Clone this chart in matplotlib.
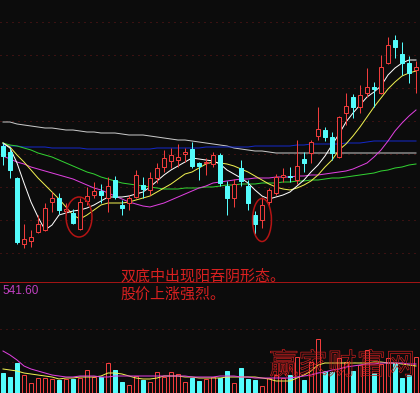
import numpy as np
import matplotlib.pyplot as plt
from matplotlib.patches import Ellipse
from matplotlib.lines import Line2D
import matplotlib.patheffects as pe

# 日K线数据 (60根)
opens = [25.4, 24.8, 22.2, 15.6, 15.9, 16.8, 17.0, 19.8, 20.2, 18.9,
         18.7, 17.1, 19.9, 20.5, 20.9, 20.2, 22.0, 19.5, 19.7, 20.3,
         21.5, 21.0, 22.2, 23.3, 23.9, 24.0, 24.65, 25.1, 23.75, 23.7,
         23.6, 24.5, 21.4, 20.2, 23.2, 21.4, 18.5, 18.0, 19.8, 20.7,
         22.3, 22.45, 22.0, 24.1, 24.7, 26.4, 27.0, 26.3, 24.3, 28.7,
         30.3, 29.3, 30.7, 31.3, 30.7, 33.7, 36.0, 34.6, 33.7, 33.0]
highs = [25.7, 25.2, 22.3, 17.6, 17.0, 18.5, 19.7, 20.8, 20.7, 19.7,
         19.1, 20.2, 21.3, 21.8, 21.6, 22.3, 22.4, 20.0, 20.5, 23.0,
         22.3, 22.8, 23.7, 25.0, 25.2, 25.6, 25.2, 25.8, 23.8, 24.2,
         24.8, 24.7, 21.9, 22.1, 24.0, 22.0, 18.9, 20.3, 21.2, 22.6,
         23.2, 23.3, 26.0, 24.8, 26.0, 29.3, 27.3, 26.8, 28.4, 30.7,
         30.6, 31.5, 33.2, 31.8, 34.5, 36.3, 36.5, 35.8, 34.4, 33.9]
lows = [23.5, 22.2, 15.6, 15.2, 15.3, 16.7, 16.95, 18.8, 18.6, 18.5,
        17.6, 17.0, 19.5, 20.2, 19.7, 18.8, 20.1, 18.5, 19.0, 20.2,
        20.2, 20.5, 21.7, 22.8, 23.2, 23.3, 23.8, 23.2, 22.0, 22.5,
        23.3, 21.4, 18.5, 19.3, 21.4, 19.0, 16.6, 17.2, 19.5, 20.5,
        21.8, 21.8, 21.6, 22.8, 23.7, 26.0, 25.9, 24.0, 24.2, 27.5,
        28.2, 28.7, 30.3, 29.3, 30.6, 33.6, 34.2, 32.5, 31.7, 30.7]
closes = [24.4, 23.0, 15.8, 16.1, 16.3, 17.6, 19.2, 20.2, 19.0, 19.1,
          17.7, 19.8, 20.4, 20.9, 20.5, 21.4, 20.3, 19.2, 20.2, 22.5,
          21.1, 22.2, 23.2, 24.2, 24.5, 24.3, 24.8, 23.4, 23.4, 23.8,
          24.5, 21.7, 20.2, 21.6, 21.9, 19.7, 17.6, 19.5, 21.0, 22.3,
          22.5, 22.3, 23.4, 23.7, 25.8, 27.1, 26.3, 24.7, 28.3, 29.4,
          29.3, 30.5, 31.3, 31.1, 33.3, 35.5, 35.3, 33.7, 32.7, 33.3]

# 均线
ma5 = [25.7, 25.2, 23.7, 21.7, 19.8, 18.3, 17.0, 17.5, 18.5, 18.7,
       18.9, 19.0, 19.2, 19.5, 19.9, 20.3, 20.3, 20.3, 20.4, 20.6,
       20.8, 21.3, 21.9, 22.5, 23.0, 23.4, 23.8, 24.2, 24.1, 24.0,
       23.9, 23.6, 23.0, 22.6, 22.2, 21.7, 21.0, 20.4, 20.1, 20.3,
       20.5, 20.8, 21.4, 22.0, 22.8, 23.5, 24.4, 25.5, 26.6, 27.8,
       28.7, 29.5, 30.3, 30.8, 31.4, 32.5, 33.2, 33.7, 34.0, 34.0]
ma10 = [25.7, 25.3, 24.5, 23.8, 23.0, 22.2, 21.5, 20.8, 20.1, 19.3,
        18.5, 18.1, 18.5, 19.0, 19.5, 19.7, 19.7, 19.7, 19.8, 20.0,
        20.2, 20.4, 20.8, 21.2, 21.6, 22.1, 22.6, 22.8, 23.2, 23.6,
        23.8, 23.7, 23.6, 23.4, 23.1, 22.8, 22.4, 22.0, 21.6, 21.3,
        21.1, 21.0, 21.2, 21.5, 21.9, 22.5, 23.3, 24.0, 25.0, 25.6,
        26.4, 27.3, 28.3, 29.3, 30.2, 31.1, 31.8, 32.4, 32.7, 32.9]
ma20 = [24.4, 24.1, 23.8, 23.6, 23.3, 23.1, 22.9, 22.7, 22.5, 22.3,
        22.1, 21.8, 21.5, 21.2, 21.0, 20.7, 20.4, 20.1, 19.8, 19.6,
        19.4, 19.3, 19.5, 19.7, 20.0, 20.3, 20.6, 20.9, 21.2, 21.4,
        21.7, 21.8, 21.9, 22.0, 22.1, 22.1, 22.2, 22.2, 22.2, 22.3,
        22.3, 22.3, 22.4, 22.4, 22.5, 22.5, 22.6, 22.7, 22.8, 22.9,
        23.1, 23.4, 23.7, 24.3, 25.0, 25.9, 26.9, 27.7, 28.4, 29.0]
ma30 = [25.7, 25.5, 25.4, 25.2, 25.0, 24.7, 24.5, 24.3, 24.0, 23.7,
        23.4, 23.1, 22.8, 22.6, 22.3, 22.1, 21.9, 21.7, 21.6, 21.5,
        21.4, 21.3, 21.2, 21.1, 21.1, 21.1, 21.2, 21.2, 21.2, 21.3,
        21.3, 21.4, 21.5, 21.5, 21.6, 21.6, 21.6, 21.7, 21.7, 21.7,
        21.8, 21.8, 21.9, 21.9, 22.0, 22.0, 22.1, 22.2, 22.2, 22.3,
        22.4, 22.5, 22.6, 22.7, 22.9, 23.0, 23.2, 23.3, 23.5, 23.6]
ma60 = [25.5, 25.4, 25.4, 25.3, 25.3, 25.3, 25.3, 25.2, 25.2, 25.2,
        25.2, 25.2, 25.1, 25.1, 25.1, 25.1, 25.1, 25.1, 25.1, 25.1,
        25.1, 25.1, 25.2, 25.2, 25.2, 25.2, 25.2, 25.2, 25.2, 25.3,
        25.3, 25.3, 25.3, 25.3, 25.3, 25.3, 25.4, 25.4, 25.4, 25.4,
        25.4, 25.4, 25.5, 25.5, 25.6, 25.6, 25.6, 25.6, 25.6, 25.7,
        25.7, 25.7, 25.8, 25.9, 25.9, 25.9, 25.9, 25.9, 25.9, 25.9]
ma120 = [27.8, 27.8, 27.6, 27.5, 27.4, 27.3, 27.2, 27.2, 27.1, 27.0,
         27.0, 26.9, 26.8, 26.8, 26.7, 26.7, 26.7, 26.6, 26.5, 26.5,
         26.5, 26.4, 26.3, 26.2, 26.1, 26.0, 26.0, 25.9, 25.8, 25.7,
         25.6, 25.5, 25.4, 25.2, 25.1, 25.0, 24.9, 24.9, 24.8, 24.7,
         24.7, 24.7, 24.7, 24.7, 24.7, 24.7, 24.7, 24.7, 24.7, 24.7,
         24.7, 24.7, 24.7, 24.7, 24.7, 24.7, 24.7, 24.7, 24.7, 24.7]

# 成交量
vols = [100, 80, 150, 90, 50, 75, 75, 70, 65, 70,
        70, 75, 115, 80, 80, 150, 115, 55, 40, 85,
        65, 55, 105, 80, 105, 95, 55, 75, 60, 70,
        80, 75, 110, 50, 125, 70, 65, 35, 75, 90,
        75, 90, 180, 65, 155, 270, 110, 105, 175, 155,
        110, 140, 215, 100, 145, 175, 150, 75, 90, 180]
vol_ma5 = [120, 115, 110, 100, 95, 90, 85, 80, 70, 75,
           75, 80, 80, 80, 85, 100, 100, 95, 85, 75,
           70, 70, 75, 85, 85, 85, 80, 80, 75, 75,
           75, 75, 80, 80, 80, 80, 80, 75, 70, 60,
           60, 60, 75, 90, 110, 140, 150, 150, 150, 150,
           150, 150, 150, 155, 155, 150, 150, 145, 140, 135]
vol_ma10 = [210, 190, 165, 135, 120, 110, 100, 90, 85, 80,
            80, 85, 85, 85, 80, 80, 85, 85, 85, 85,
            85, 85, 85, 85, 85, 85, 85, 80, 80, 80,
            80, 85, 85, 85, 80, 80, 75, 75, 75, 75,
            75, 75, 80, 85, 90, 100, 105, 115, 120, 130,
            135, 140, 145, 145, 150, 150, 150, 150, 145, 145]
vol_top_label = "541.60"

price_grid = [37.85, 34.55, 31.25, 27.95, 24.65, 21.35, 18.05, 14.75]
vol_grid = [320, 155]

note_lines = ["双底中出现阳吞阴形态。", "股价上涨强烈。"]
watermark = "赢家财富网"

BG = '#0c0c0c'
RED = '#f03c3c'
CYAN = '#54fcfc'
GRID = '#6a1818'
LW = 0.72
BW = 0.68

plt.rcParams['font.family'] = ['Noto Sans CJK SC', 'DejaVu Sans']

fig = plt.figure(figsize=(4.2, 3.93), dpi=100, facecolor=BG)
ax = fig.add_axes([0, 111 / 393, 1, 282 / 393])
axv = fig.add_axes([0, 0, 1, 111 / 393])
for a in (ax, axv):
    a.set_facecolor(BG)
    a.set_axis_off()
    a.set_xlim(-3 / 7, 417 / 7)
ax.set_ylim(11.8, 40)
axv.set_ylim(0, 555)

idx = np.arange(len(opens))
o = np.array(opens)
c = np.array(closes)
up = c >= o
colors = np.where(up, RED, CYAN)

for y in price_grid:
    ax.axhline(y, color=GRID, lw=LW, ls=(0, (1, 5)), zorder=0)
for y in vol_grid:
    axv.axhline(y, color=GRID, lw=LW, ls=(0, (1, 5)), zorder=0)

# 均线
ma_style = [(ma120, '#c8c8c8'), (ma60, '#1428c8'), (ma30, '#32d232'),
            (ma20, '#e040e0'), (ma10, '#f0f050'), (ma5, '#ffffff')]
for vals, col in ma_style:
    ax.plot(idx, vals, color=col, lw=LW, zorder=2)

# K线
ax.vlines(idx, lows, highs, colors=colors, lw=LW, zorder=3)
body_h = np.maximum(np.abs(c - o), 0.02)
body_b = np.minimum(c, o)
ax.bar(idx[up], body_h[up], bottom=body_b[up], width=BW,
       facecolor=BG, edgecolor=RED, lw=LW, zorder=4)
ax.bar(idx[~up], body_h[~up], bottom=body_b[~up], width=BW,
       facecolor=CYAN, edgecolor=CYAN, lw=LW, zorder=4)

# 圈出双底
ax.add_patch(Ellipse((10.86, 18.3), 3.7, 4.0, fill=False, ec='#b41414', lw=1.1, zorder=5))
ax.add_patch(Ellipse((37.0, 18.0), 2.7, 4.3, fill=False, ec='#b41414', lw=1.1, zorder=5))

# 成交量
v = np.array(vols)
axv.bar(idx[up], v[up], width=BW, facecolor=BG, edgecolor=RED, lw=LW, zorder=2)
axv.bar(idx[~up], v[~up], width=BW, facecolor=CYAN, edgecolor=CYAN, lw=LW, zorder=2)
axv.plot(idx, vol_ma5, color='#f0f050', lw=LW, zorder=3)
axv.plot(idx, vol_ma10, color='#e040e0', lw=LW, zorder=3)

fig.add_artist(Line2D([0, 1], [1 - 282 / 393] * 2, color='#a01414', lw=LW))
fig.text(2 / 420, 1 - 291 / 393, vol_top_label, color='#c040c0', fontsize=8.5,
         family='Liberation Sans', va='center', ha='left')

fig.text(120 / 420, 1 - 276 / 393, note_lines[0], color='#d82020', fontsize=10.8,
         va='center', ha='left')
fig.text(120 / 420, 1 - 295 / 393, note_lines[1], color='#d82020', fontsize=10.8,
         va='center', ha='left')

fig.text(342 / 420, 1 - 366 / 393, watermark, fontsize=21, ha='center', va='center',
         path_effects=[pe.PathPatchEffect(edgecolor='#c81e1e', facecolor='none', linewidth=0.5)])

fig.savefig('out.png', dpi=100, facecolor=BG)
